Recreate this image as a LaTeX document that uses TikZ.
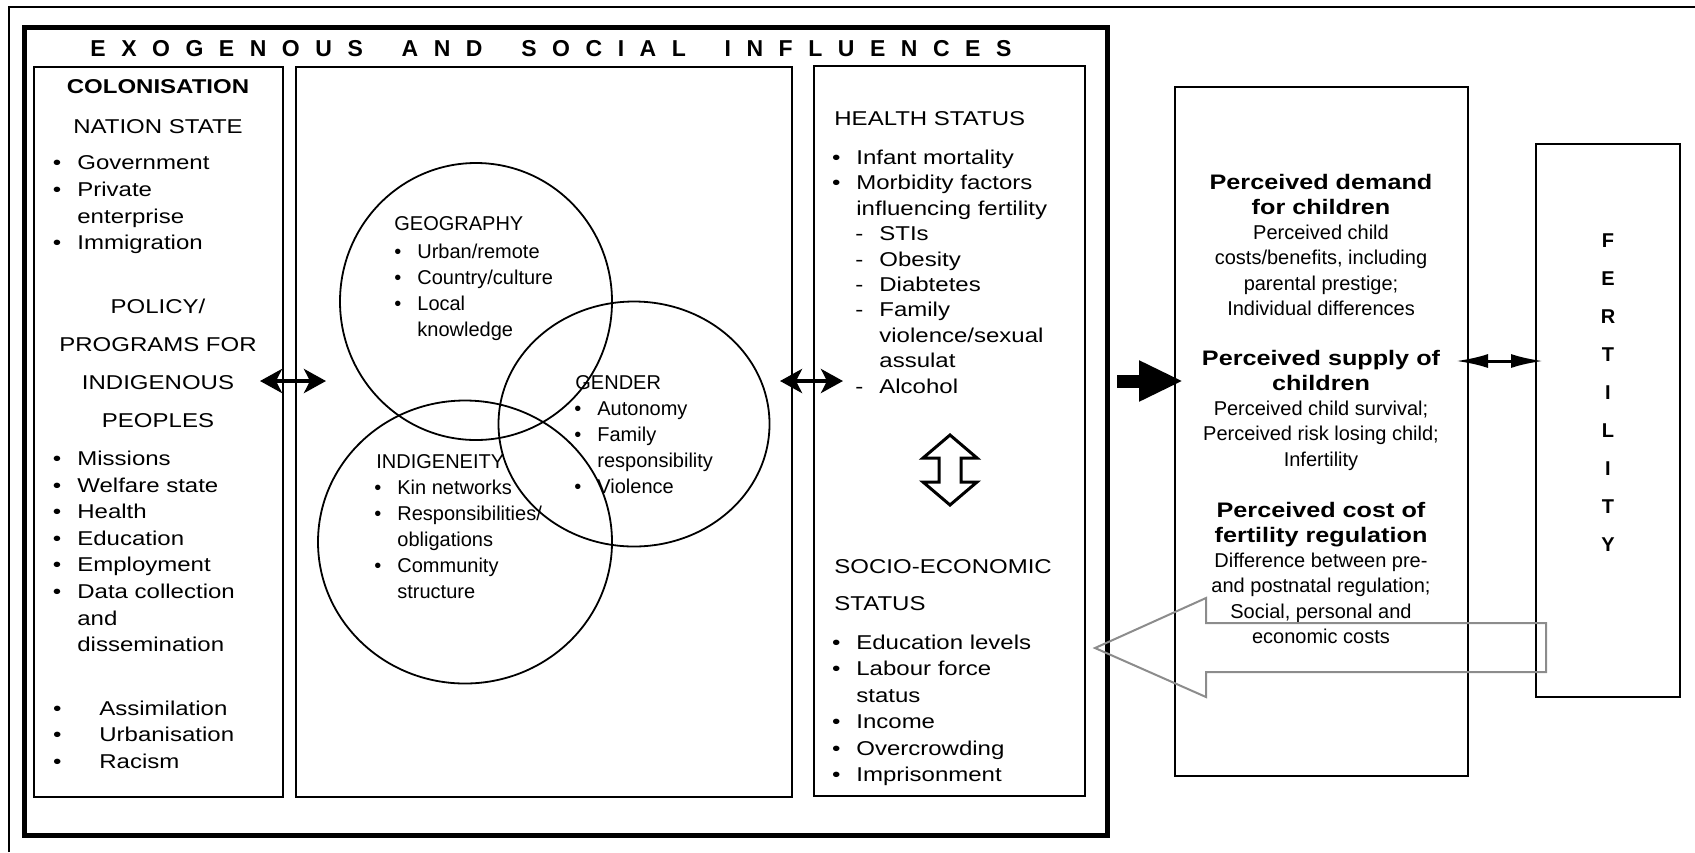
\documentclass[tikz,border=0pt]{standalone}
\usepackage{fontspec}
\setmainfont{Liberation Sans}[FakeStretch=1.2]
\newfontfamily\plainsans{Liberation Sans}
\usepackage{tikz}
\usetikzlibrary{arrows.meta,shapes.geometric}

\newcommand{\bul}[1][8pt]{\makebox[0pt][r]{\textbullet\hspace{#1}}}
\newcommand{\dsh}{\makebox[0pt][r]{-\hspace{8pt}}}
\newcommand{\subin}{\hspace*{11.5pt}}
\newcommand{\hd}{\normalfont\fontsize{10.5}{12.6}\selectfont\bfseries}
\newcommand{\lgap}{\hskip 0pt plus 1fill\relax}
\newcommand{\wgap}{\hskip 0pt plus 2.5fill\relax}

\tikzset{
  panel/.style={draw, line width=1pt, anchor=north west, inner sep=0pt, outer sep=0pt},
  ring/.style={draw, ellipse, line width=0.9pt, inner sep=0pt},
  list/.style={inner sep=0pt, anchor=north west, align=left, font=\fontsize{10}{13.3}\selectfont},
  clist/.style={list, font=\plainsans\fontsize{10}{13}\selectfont},
  head/.style={inner sep=0pt, anchor=base west, font=\fontsize{10}{12}\selectfont},
  chead/.style={head, font=\plainsans\fontsize{10}{12}\selectfont},
  perc/.style={inner sep=0pt, anchor=north, align=center, font=\plainsans\fontsize{10}{12.6}\selectfont},
  twoway/.style={<->, >={Stealth[length=11pt,width=12pt,inset=3pt]}, line width=2pt},
  thinway/.style={<->, >={Latex[length=16pt,width=7pt]}, line width=1.5pt},
  bigarrow/.style={-{Triangle[length=22pt,width=19pt]}, line width=6.5pt},
  hollow/.style={line width=1.5pt, line join=miter},
  feedback/.style={draw=black!45, line width=1pt, line join=miter}
}

\begin{document}
\begin{tikzpicture}[x=0.5pt,y=-0.5pt]
\useasboundingbox (0,0) rectangle (1695,852);
% page frame, cut off at right and bottom
\draw[line width=0.6pt] (9,852) |- (1695,7);

% exogenous block with its three panels
\node[panel, line width=2.5pt, minimum width=541.5pt, minimum height=404pt] (exo) at (24,27) {};
\node[head, font=\plainsans\fontsize{11.5}{12}\selectfont\bfseries] (title) at (90,56)
  {\makebox[460.5pt][s]{E\lgap X\lgap O\lgap G\lgap E\lgap N\lgap O\lgap U\lgap S\wgap
   A\lgap N\lgap D\wgap S\lgap O\lgap C\lgap I\lgap A\lgap L\wgap
   I\lgap N\lgap F\lgap L\lgap U\lgap E\lgap N\lgap C\lgap E\lgap S}};
\node[panel, minimum width=124.5pt, minimum height=365pt] (leftbox) at (34,67) {};
\node[panel, minimum width=248pt, minimum height=365pt] (midbox) at (296,67) {};
\node[panel, minimum width=135.5pt, minimum height=365pt] (healthbox) at (814,66) {};

% colonisation column
\node[head, anchor=base, font=\fontsize{10}{12}\selectfont\bfseries] (colon) at (158,93) {COLONISATION};
\node[head, anchor=base] (nation) at (158,133) {NATION STATE};
\node[list] (natlist) at (77,155.5) {\bul Government\\\bul Private\\enterprise\\\bul Immigration};
\node[list, anchor=north, align=center, font=\fontsize{10}{19}\selectfont] (policy) at (158,298.7)
  {POLICY/\\PROGRAMS FOR\\INDIGENOUS\\PEOPLES};
\node[list] (proglist) at (77,450.5) {\bul Missions\\\bul Welfare state\\\bul Health\\\bul Education\\
  \bul Employment\\\bul Data collection\\and\\dissemination};
\node[list, font=\fontsize{10}{13.2}\selectfont] (assim) at (99,700.5)
  {\bul[19pt]Assimilation\\\bul[19pt]Urbanisation\\\bul[19pt]Racism};

% overlapping circles
\node[ring, minimum width=136pt, minimum height=138.5pt] (geoc) at (476,301.5) {};
\node[ring, minimum width=135.5pt, minimum height=122.5pt] (gendc) at (634,424) {};
\node[ring, minimum width=147pt, minimum height=141.5pt] (indc) at (465,542) {};
\node[chead] (geohead) at (394,230) {GEOGRAPHY};
\node[clist] (geolist) at (417,243.5) {\bul Urban/remote\\\bul Country/culture\\\bul Local\\knowledge};
\node[chead] (gendhead) at (575,389) {GENDER};
\node[clist, font=\plainsans\fontsize{10}{12.9}\selectfont] (gendlist) at (597,401.5)
  {\bul Autonomy\\\bul Family\\responsibility\\\bul Violence};
\node[chead] (indhead) at (376,468) {INDIGENEITY};
\node[clist] (indlist) at (397,479.5)
  {\bul Kin networks\\\bul Responsibilities/\\obligations\\\bul Community\\structure};

% health and socio-economic status
\node[head] (hshead) at (834,125) {HEALTH STATUS};
\node[list, font=\fontsize{10}{12.7}\selectfont] (hslist) at (856,149.5)
  {\bul Infant mortality\\\bul Morbidity factors\\influencing fertility\\
   \subin\dsh STIs\\\subin\dsh Obesity\\\subin\dsh Diabtetes\\\subin\dsh Family\\
   \subin violence/sexual\\\subin assulat\\\subin\dsh Alcohol};
\draw[hollow] (950,435) -- (977,458) -- (961,458) -- (961,482) -- (977,482) -- (950,505)
  -- (923,482) -- (939,482) -- (939,458) -- (923,458) -- cycle;
\node[list, font=\fontsize{10}{18.5}\selectfont] (seshead) at (834,558.7) {SOCIO-ECONOMIC\\STATUS};
\node[list, font=\fontsize{10}{13.2}\selectfont] (seslist) at (856,634.5)
  {\bul Education levels\\\bul Labour force\\status\\\bul Income\\\bul Overcrowding\\\bul Imprisonment};

% perceived demand, supply and cost
\node[panel, minimum width=146.5pt, minimum height=344.5pt] (demand) at (1175,87) {};
\node[perc] (demandtxt) at (1321,173.7) {{\hd Perceived demand}\\{\hd for children}\\Perceived child\\
  costs/benefits, including\\parental prestige;\\Individual differences};
\node[perc] (supplytxt) at (1321,349.7) {{\hd Perceived supply of}\\{\hd children}\\
  Perceived child survival;\\Perceived risk losing child;\\Infertility};
\node[perc] (costtxt) at (1321,501.7) {{\hd Perceived cost of}\\{\hd fertility regulation}\\
  Difference between pre-\\and postnatal regulation;\\Social, personal and\\economic costs};

% fertility
\node[panel, minimum width=72pt, minimum height=276.5pt] (fert) at (1536,144) {};
\node[perc, font=\plainsans\bfseries\fontsize{10}{19}\selectfont] (fertxt) at (1608,233.5)
  {F\\E\\R\\T\\I\\L\\I\\T\\Y};

% connectors
\coordinate (row) at (0,381);
\coordinate (frow) at (0,361);
\draw[twoway, shorten <=-11.5pt, shorten >=-15pt] (leftbox.east |- row) -- (midbox.west |- row);
\draw[twoway, shorten <=-6pt, shorten >=-14.5pt] (midbox.east |- row) -- (healthbox.west |- row);
\draw[bigarrow, shorten <=5pt, shorten >=-4pt] (exo.east |- row) -- (demand.west |- row);
\draw[thinway, shorten <=-6pt, shorten >=-3.5pt] (demand.east |- frow) -- (fert.west |- frow);
\draw[feedback] (1546,623) -- (1206,623) -- (1206,598) -- (1095,648) -- (1206,697)
  -- (1206,672) -- (1546,672) -- cycle;
\end{tikzpicture}
\end{document}
